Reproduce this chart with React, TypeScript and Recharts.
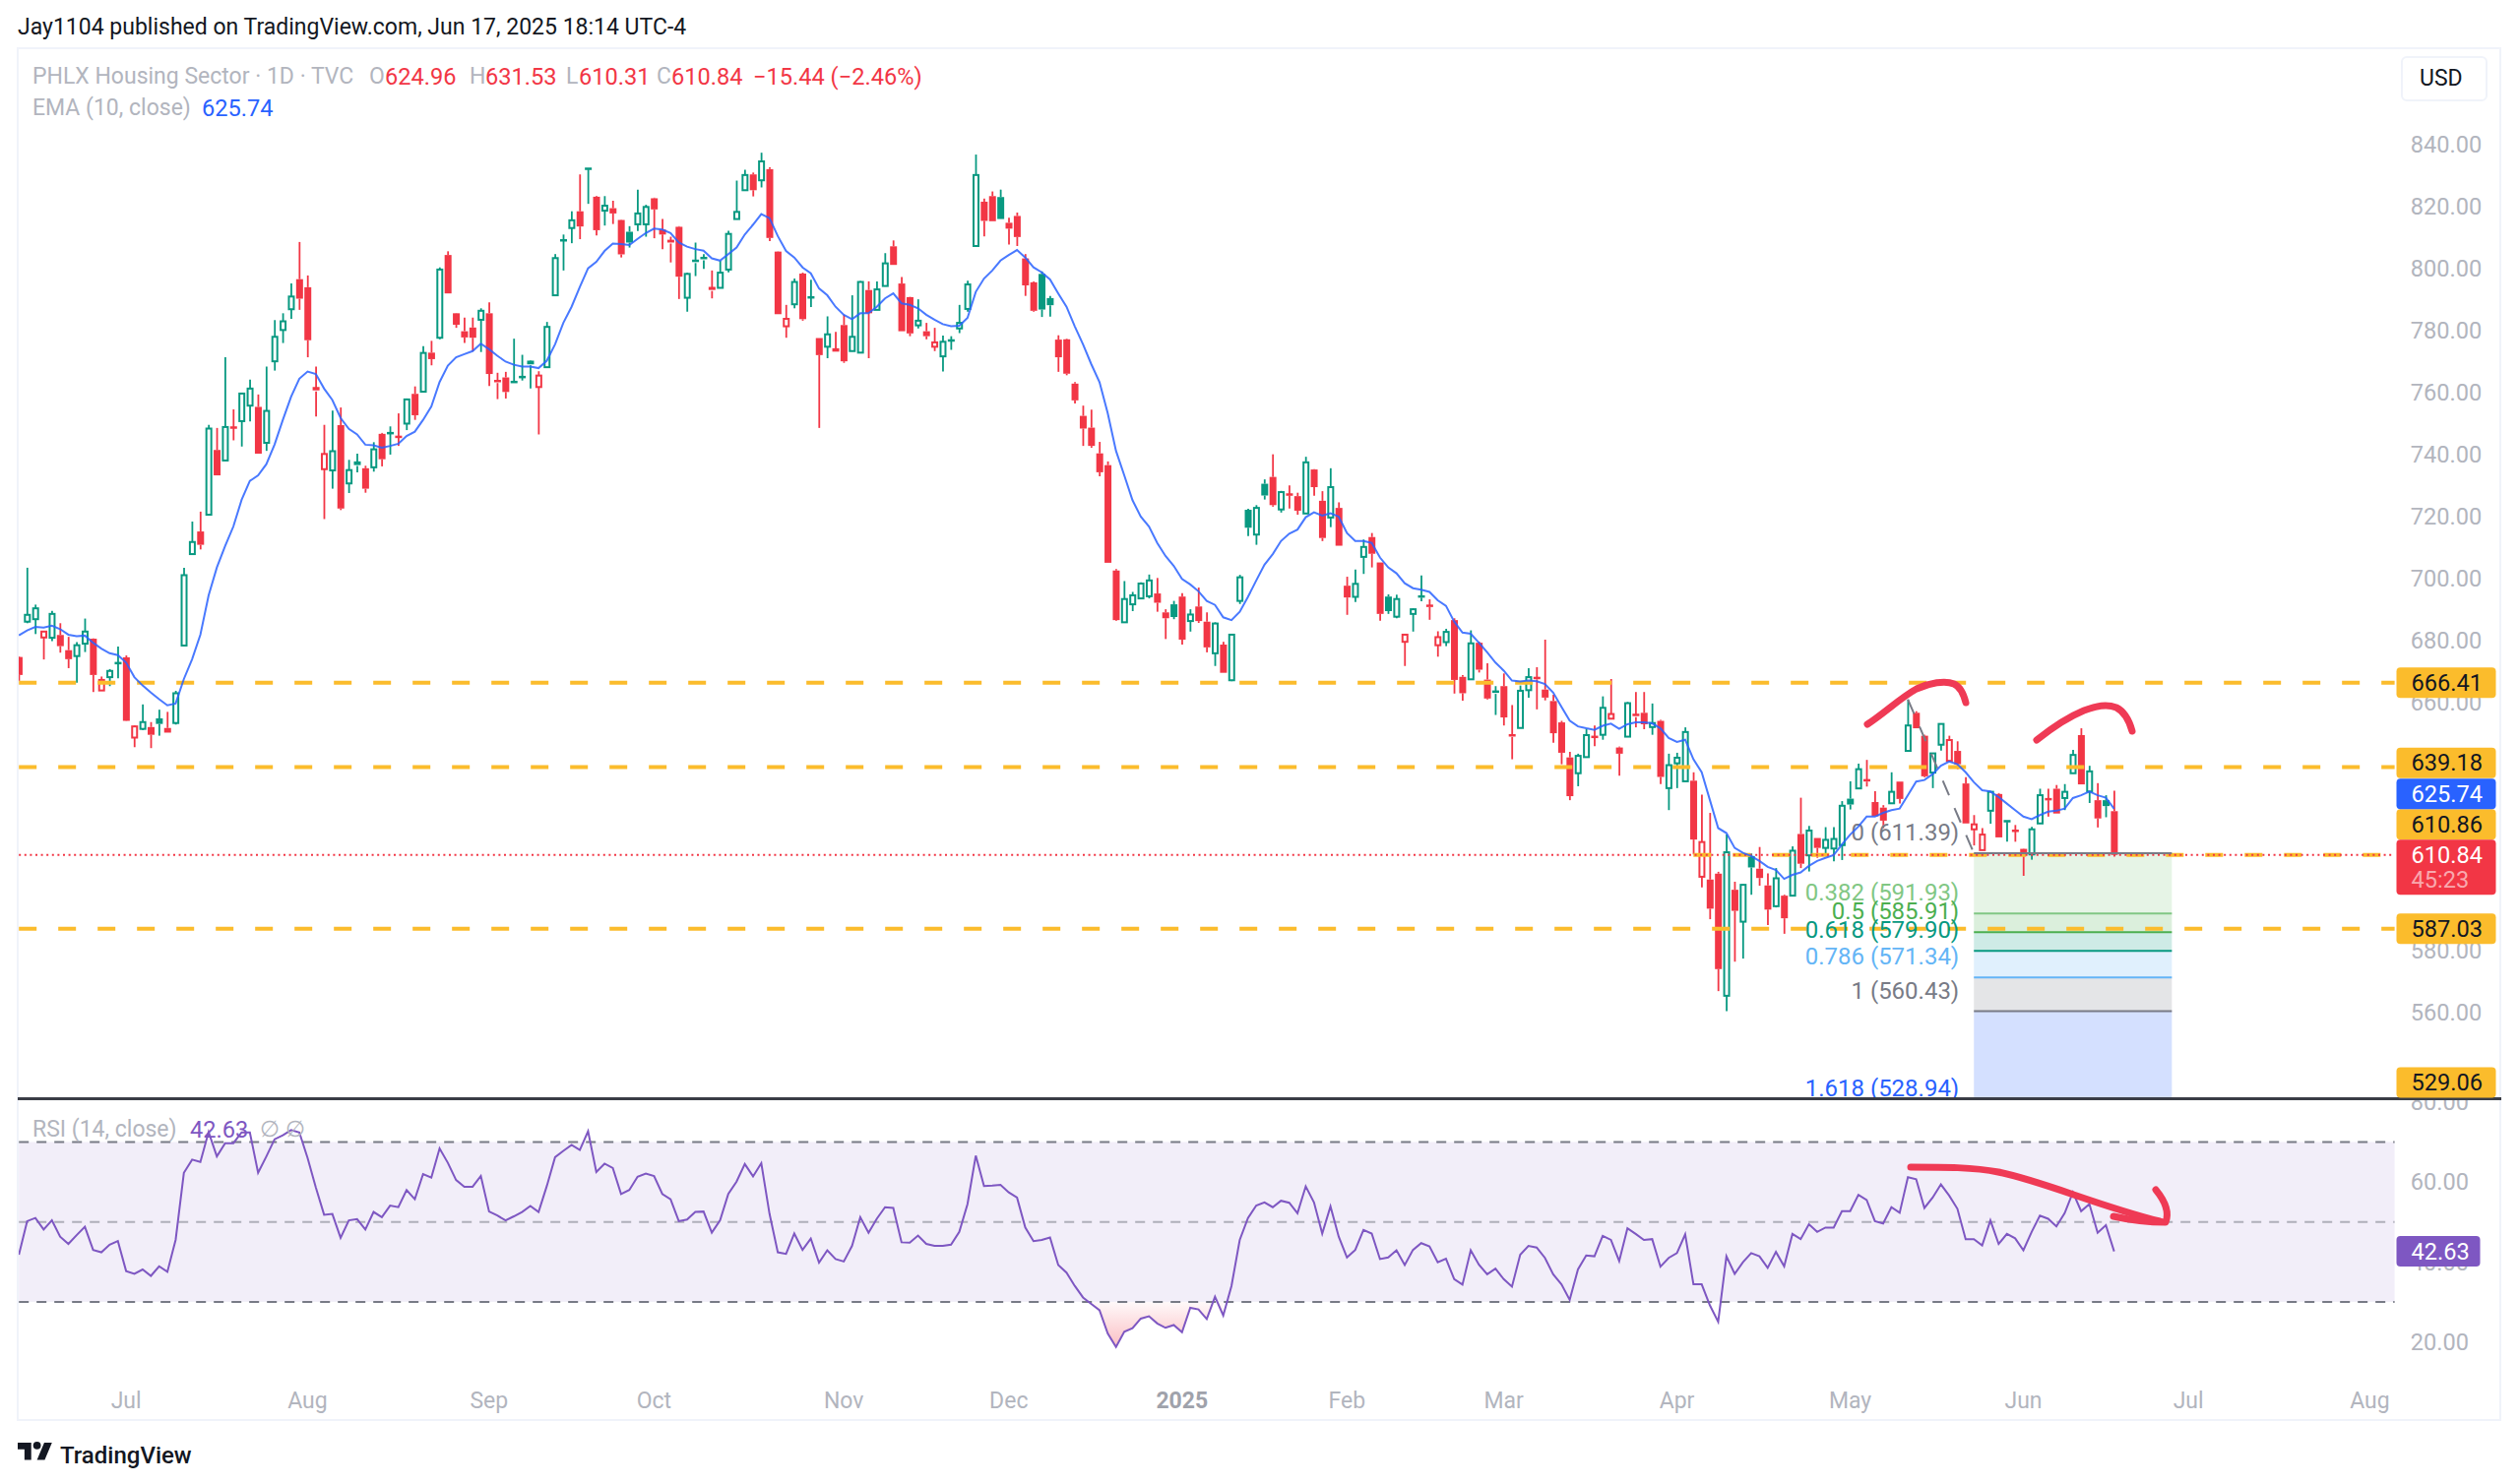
import { Area, Bar, ComposedChart, Line, ReferenceArea, ReferenceLine, XAxis, YAxis } from "recharts";

// daily bars of PHLX Housing Sector, slot 0 = mid June 2024
const opens = [
  674.7,686.1,686.9,681.0,680.9,681.8,676.9,675.0,679.0,680.6,
  663.9,668.2,672.6,674.6,648.7,651.5,652.1,654.9,651.8,653.4,
  678.4,707.9,715.2,720.6,741.5,738.1,748.8,750.8,755.8,755.4,
  743.8,770.1,780.2,786.9,796.6,794.0,761.5,735.3,734.9,749.5,
  730.7,737.5,735.6,735.9,746.7,746.7,745.8,750.0,759.6,760.3,
  772.9,777.7,804.4,785.6,779.8,781.0,783.5,785.6,763.1,764.9,
  763.2,764.8,770.0,761.8,768.2,791.4,809.0,813.1,818.5,832.0,
  823.2,818.7,819.5,815.7,811.9,814.3,814.3,822.7,812.6,809.0,
  813.5,790.6,801.8,803.5,793.8,793.8,799.7,816.0,825.3,830.4,
  828.5,832.1,805.5,781.4,788.5,798.4,790.5,777.6,774.8,774.0,
  781.8,773.4,772.9,793.1,786.7,794.4,807.2,795.2,790.8,781.7,
  779.8,774.8,771.7,776.5,780.7,787.0,807.3,821.6,823.4,823.1,
  814.8,817.0,803.3,795.6,798.3,790.5,777.1,777.2,762.9,752.5,
  748.7,740.4,736.6,702.6,685.9,691.7,693.6,694.3,695.2,689.1,
  691.7,694.2,686.3,691.0,686.1,675.9,678.7,667.2,692.8,722.2,
  714.2,730.6,732.8,722.3,727.2,726.6,721.0,735.2,725.1,719.7,
  722.8,697.7,694.1,707.0,713.4,705.2,694.2,687.7,679.6,688.6,
  693.9,691.3,678.5,679.5,686.6,668.3,667.5,679.3,667.4,663.6,
  665.3,649.5,651.8,664.0,667.5,664.2,660.5,653.6,642.3,637.2,
  642.4,649.0,649.6,654.8,645.5,649.0,656.1,656.7,652.1,654.1,
  632.4,640.4,634.6,634.8,603.8,602.9,604.8,565.4,599.6,589.3,
  610.5,606.4,601.0,594.3,597.7,597.7,617.6,610.7,616.3,613.1,
  612.9,614.0,629.0,632.3,635.0,627.9,626.1,627.5,634.5,644.4,
  656.7,649.3,637.4,646.4,641.2,644.4,633.9,619.1,612.4,625.1,
  630.5,621.5,618.7,612.8,611.0,621.0,628.9,632.2,629.2,637.2,
  649.5,631.3,628.5,628.5,624.96,
];

const highs = [
  674.9,703.5,691.6,683.1,689.6,685.6,681.2,679.5,687.1,680.7,
  668.4,670.8,678.1,675.2,652.6,659.4,653.7,657.7,657.0,663.8,
  703.5,718.4,721.6,749.6,748.6,771.4,754.6,759.9,764.2,759.4,
  768.4,783.4,785.6,795.2,808.6,797.8,768.4,749.6,754.2,755.2,
  738.3,740.3,736.4,744.0,747.0,749.1,753.3,758.1,762.0,775.0,
  776.7,800.4,805.6,785.7,784.2,784.2,787.2,789.1,766.4,766.7,
  777.4,772.2,770.3,766.9,782.8,804.7,811.0,818.5,830.4,832.3,
  823.4,823.4,821.9,815.8,813.7,825.5,820.6,822.9,816.0,810.3,
  813.7,798.7,808.4,804.7,799.4,802.6,812.2,828.4,831.9,831.0,
  837.4,832.7,805.6,788.3,796.8,798.7,796.4,777.6,784.6,779.6,
  785.1,791.4,796.0,795.9,795.9,805.0,809.1,797.3,790.9,790.1,
  782.5,780.9,778.4,778.2,788.3,796.1,836.8,822.6,824.9,825.5,
  816.4,818.1,804.7,795.9,799.1,791.2,778.5,777.4,763.4,755.8,
  754.5,744.1,737.8,703.1,699.2,695.7,698.8,701.3,700.2,690.1,
  692.8,695.3,690.1,697.1,689.1,685.9,679.6,682.1,701.2,722.5,
  723.7,732.0,740.1,728.3,730.1,727.7,739.3,735.3,728.2,735.6,
  724.6,700.6,702.9,712.6,714.7,705.2,694.9,694.8,682.1,690.4,
  701.0,693.3,683.0,683.8,687.2,668.9,683.3,679.6,672.7,665.3,
  669.4,659.2,665.5,671.1,671.4,680.3,662.5,654.1,644.1,643.5,
  651.5,652.6,662.0,667.6,645.8,660.2,663.4,663.4,659.7,654.4,
  643.5,643.8,652.0,637.5,630.3,624.4,605.4,617.4,602.2,601.3,
  611.3,613.4,604.9,606.6,598.0,613.6,629.3,620.2,616.3,619.8,
  619.8,628.2,634.6,640.3,641.5,631.4,626.9,637.5,634.5,661.0,
  657.2,649.6,643.6,653.1,649.3,647.5,635.9,623.7,619.5,631.4,
  630.8,621.9,620.5,612.9,619.9,632.2,632.2,633.4,633.7,644.7,
  651.7,639.6,634.0,630.1,631.53,
];

const lows = [
  667.0,685.6,682.1,673.9,679.8,676.1,671.1,666.4,676.3,663.4,
  663.8,665.3,667.8,654.0,645.6,651.1,645.3,649.3,650.3,652.9,
  678.2,707.9,709.4,720.6,733.3,738.1,744.6,742.6,750.7,740.3,
  741.2,767.1,776.0,783.8,786.7,771.4,752.3,719.2,729.0,722.1,
  727.6,734.3,727.7,734.5,736.2,740.0,742.8,747.9,751.2,760.3,
  768.8,777.2,792.0,780.9,776.0,773.3,773.1,762.1,757.9,758.1,
  763.2,763.9,761.3,746.5,768.2,791.4,799.4,808.2,809.5,820.9,
  810.7,813.9,814.4,803.6,806.8,812.1,810.3,809.8,806.3,802.0,
  790.2,786.1,797.6,799.9,790.4,793.8,798.8,816.0,825.3,823.3,
  826.2,808.9,785.3,777.7,787.2,783.2,787.6,748.6,771.1,772.9,
  769.6,773.4,772.9,771.1,786.7,794.4,801.2,779.8,778.2,780.7,
  777.2,773.4,766.8,773.8,779.2,786.1,807.3,810.4,815.3,816.0,
  807.8,807.3,791.2,786.1,784.4,784.5,766.7,765.6,756.5,742.8,
  742.2,733.0,705.1,686.3,685.9,689.5,693.6,693.6,689.3,680.5,
  686.9,678.7,682.9,685.7,676.2,671.8,669.6,666.9,691.8,713.7,
  710.9,725.5,723.2,721.3,722.6,720.6,721.0,726.7,712.1,716.6,
  710.6,688.3,692.4,701.5,703.6,686.4,688.6,687.2,671.8,682.9,
  692.7,686.7,674.8,678.2,662.9,660.6,667.5,669.7,661.0,656.0,
  652.6,641.7,651.8,661.6,657.8,660.7,647.0,640.1,628.5,633.0,
  642.4,645.9,648.0,654.8,636.4,649.0,652.0,651.4,649.6,633.7,
  625.3,632.4,634.6,611.0,600.4,590.1,566.9,560.4,576.4,577.4,
  598.0,600.9,588.2,593.9,585.4,597.7,606.6,605.5,609.9,610.5,
  608.8,609.2,625.5,632.3,632.9,623.3,619.5,627.5,627.4,644.4,
  651.7,635.9,632.4,644.5,641.2,638.5,621.0,613.9,612.4,620.9,
  616.5,615.1,615.1,604.1,609.3,621.0,623.2,624.2,625.3,637.2,
  633.6,627.6,619.7,623.0,610.31,
];

const closes = [
  668.9,688.3,690.4,682.9,688.6,678.2,674.0,678.5,682.9,668.9,
  667.3,670.2,672.8,654.1,652.3,653.7,649.6,653.1,650.3,663.0,
  701.1,711.8,710.9,748.4,733.3,748.9,748.6,759.7,761.3,740.3,
  754.1,778.0,783.0,791.0,790.3,776.9,760.4,740.2,741.1,722.6,
  735.0,736.3,729.0,741.7,738.5,747.0,745.5,757.8,752.7,772.8,
  770.8,799.7,792.0,781.9,777.8,777.7,786.4,766.0,763.8,760.2,
  763.5,765.1,768.8,765.5,781.2,803.4,809.2,815.6,813.6,832.3,
  812.4,820.3,817.8,804.6,808.4,817.8,819.9,819.1,811.0,808.1,
  797.4,798.3,802.6,802.7,792.8,798.7,811.2,818.3,830.2,825.3,
  834.6,809.9,785.3,783.8,795.7,783.7,790.8,772.1,778.8,772.9,
  770.1,778.0,795.7,785.6,793.3,801.7,801.2,779.8,779.1,783.2,
  778.2,776.2,776.4,776.9,782.5,794.9,830.2,815.4,815.3,816.0,
  812.9,810.2,794.6,786.4,786.8,788.2,771.4,766.1,757.5,748.4,
  742.8,734.3,705.1,686.6,693.4,694.6,698.4,699.4,692.2,687.2,
  687.6,680.3,688.4,686.3,677.8,685.5,669.6,681.9,700.4,716.4,
  722.8,726.8,723.7,727.9,726.8,721.9,737.5,729.5,713.1,729.5,
  710.6,693.9,698.3,710.2,708.0,688.6,689.5,693.4,681.9,690.1,
  694.3,690.8,681.1,682.8,667.3,663.0,679.1,670.6,661.3,662.8,
  655.2,648.9,663.8,668.2,668.0,661.6,650.1,643.8,629.8,642.8,
  649.5,648.6,658.3,656.3,643.5,659.8,655.3,653.0,653.4,636.0,
  639.8,642.2,650.5,615.8,615.0,593.5,574.0,611.7,592.8,601.2,
  606.8,603.4,593.2,603.3,590.4,612.2,608.0,618.7,613.1,615.7,
  616.0,626.7,627.1,638.5,634.5,623.3,621.9,631.2,628.9,652.6,
  651.7,636.2,643.6,653.1,647.9,640.1,621.0,620.7,617.4,631.2,
  616.5,621.8,618.4,610.9,619.1,630.1,628.5,624.2,631.2,643.1,
  633.6,637.8,622.6,626.6,610.84,
];

const ema10 = [
  681.7,683.3,684.4,684.2,684.8,683.7,681.9,681.4,681.6,679.3,
  677.4,675.9,675.3,672.9,668.2,665.5,663.2,661.1,659.1,659.7,
  667.6,674,681.9,694.6,703.6,710.5,716.8,725.4,731.5,733.3,
  736.9,743.3,751.2,758.7,764.5,766.8,766,761.3,757.6,751.8,
  748.3,746.5,743.2,743,742.2,742.8,743.5,746,747.4,751.2,
  755.5,763.4,768.7,771.4,772.4,773.4,775.8,774,771.9,770,
  769,768.4,768.4,767.9,770.3,775.6,782.5,787.7,794.1,800.1,
  802.2,805.7,808.1,807.9,807.6,809.6,811.5,812.9,812.6,811.5,
  808.4,807.1,806.3,805.8,803.3,802.6,804.7,806.8,811,814.2,
  817.6,816.3,810.5,805.7,803.6,800.4,798.5,793.6,791.4,787.7,
  785.1,783.7,785.6,785.6,787.7,790.4,792,788.8,788.3,787.2,
  785.1,783.5,782.1,781.4,781.6,784.1,792.5,796.8,799.4,802.6,
  804.4,806,803.6,800.4,798.8,796.5,792,787.7,781.4,775.6,
  769.2,763.4,753.3,741.2,733.3,725.3,720,716.8,711.5,707.3,
  704.1,699.9,698.1,695.9,692.8,691.5,687.5,686.6,689.3,694.1,
  699.4,704.5,707.9,712.1,714.5,715.8,719.8,721.4,720.3,721.1,
  720,714.7,712.1,712.1,711.5,706.8,703.6,701.7,698.5,696.9,
  696.4,695.7,693,691.2,686.1,682.6,682.2,679.3,676.2,672.9,
  670.3,667.1,666.8,667.1,666.9,666,663.2,658.6,654.2,652.3,
  651.7,651.2,652.5,653.2,651.5,653,653.6,653.6,653.3,651.7,
  648.6,647.3,648,641.7,637.5,628.5,619.5,617.9,613.1,611.5,
  610.5,608.9,607,606,603.1,604.4,605.2,607.3,608.9,609.9,
  610.8,614.2,617.4,620,623.2,623.2,624.4,625.3,625.8,630.1,
  634.5,635,636.9,639.6,641,640.1,637.5,634.3,631.7,631.3,
  629.5,627.4,625.3,623.2,622.4,623.7,624.8,625.1,625.8,629.2,
  630.1,631.3,630.1,629.3,625.74,
];

const rsi14 = [
  41.8,50.2,51,48.1,50.4,46.3,44.5,46.7,48.8,43,
  42.4,44.3,45.2,37.7,37,38.1,36.5,38.9,37.5,45.5,
  62.3,65.6,65,72.5,66.4,69.7,69.7,72.4,72.4,62.3,
  66.4,70.7,71.7,73,72.4,66,58.6,51.8,52,46,
  50.4,50.7,48.1,52.5,51.2,54.1,53.7,58,55.7,62,
  61.1,68.4,64.8,60.5,58.8,58.8,61.5,52.6,51.6,50.4,
  51.4,52.5,54,52.5,59,66.2,67.8,69.3,68,72.7,
  62.5,64.6,63.5,57,58,61.3,62.1,61.5,57,55.7,
  50.2,50.6,52.5,52.6,47.3,50.4,57,60.1,64.5,61.4,
  64.7,52,42.4,42,47.1,43,45.8,39.8,42.9,40.7,
  40.1,44,51.2,47.3,50.8,53.7,53.5,44.9,44.8,46.6,
  44.5,44,44,44.3,47.5,54.5,66.6,59,59.1,59.3,
  57.4,56.1,48.6,45.2,45.5,46.1,39.2,37.3,34,31.1,
  29.5,27.9,22.1,18.7,22.5,23.4,25.8,26.4,24.6,23.5,
  24.2,22.4,28.5,28.1,25.7,31.3,26.6,34,45.5,51,
  54.1,54.9,53.7,55.3,54.8,52.2,58.9,54.9,47.1,53.9,
  46.3,41.1,43,48,47.1,40.7,41.1,42.9,39.2,43,
  44.7,43.9,39.9,40.8,35.7,34.3,42.9,39.3,36.9,38.3,
  35.7,33.8,41.8,44,43.6,41,36.9,34.4,30.5,38.1,
  41.6,41.4,46.5,45.5,40.2,48.4,47,45.5,45.7,38.8,
  41,42.2,46.9,34.4,34.4,29.1,25,41.4,37,39.9,
  42.2,41.4,38.5,42.5,38.9,47,45.7,49.4,47.5,48.6,
  48.6,52.7,52.7,56.8,55.5,50.2,49.6,53.7,52.3,61.2,
  60.7,53.5,56.1,59.4,56.6,53.3,45.7,45.7,44.1,50.4,
  44.5,47,45.9,42.9,47.5,51.6,50.8,48.9,52.2,57.4,
  52.7,54.5,47.3,49.2,42.63,
];

const priorClose = 680;
const slotCount = 289;

const monthSlots = [13, 35, 57, 77, 100, 120, 141, 161, 180, 201, 222, 243, 263, 285];
const monthLabels = ["Jul", "Aug", "Sep", "Oct", "Nov", "Dec", "2025", "Feb", "Mar", "Apr", "May", "Jun", "Jul", "Aug"];

// 640, 620, 600 and 540 sit fully behind the price tags, so they are left out
const priceTicks = [840, 820, 800, 780, 760, 740, 720, 700, 680, 660, 580, 560];
const rsiTicks = [80, 60, 40, 20];

const supportLevels = [666.41, 639.18, 587.03];
const closeDayLevel = 610.86;
const lastClose = 610.84;

// fib retracement drawn over the last swing
const fibRatios = ["0", "0.382", "0.5", "0.618", "0.786", "1", "1.618"];
const fibValues = [611.39, 591.93, 585.91, 579.9, 571.34, 560.43, 528.94];
const fibColors = ["#787b86", "#81c784", "#4caf50", "#089981", "#64b5f6", "#787b86", "#2962ff"];
const fibFrom = 237;
const fibTo = 261;

// text of the scale tags, with the price where the tag ends up after stacking
const tagTexts = ["666.41", "639.18", "610.86", "587.03", "529.06"];
const tagPrices = [666.41, 640.5, 620.7, 587.03, 537.4];

const GREEN = "#089981";
const RED = "#f23645";
const ORANGE = "#fbbc2c";
const GREY = "#b2b5be";
const PURPLE = "#7e57c2";
const BLUE = "#2962ff";
const INK = "#ef3a55";
const FONT = "Roboto, sans-serif";

const CHART_LEFT = 14.9;
const PLOT_WIDTH = 2421.8;
const AXIS_WIDTH = 110;
const LAST_SLOT = slotCount - 1;
const PRICE_DOMAIN = [532.34, 871.43];
const RSI_DOMAIN = [11.5, 80.47];

const rows = Array.from({ length: slotCount }, (_, i) => {
  if (i >= closes.length) return { slot: i };
  const inDecemberDip = i >= 130 && i <= 146;
  return {
    slot: i,
    open: opens[i],
    high: highs[i],
    low: lows[i],
    close: closes[i],
    prevClose: i === 0 ? priorClose : closes[i - 1],
    range: [lows[i], highs[i]],
    ema: ema10[i],
    rsi: rsi14[i],
    dip: inDecemberDip ? [Math.min(rsi14[i], 30), 30] : null,
  };
});

function Candle(props: any) {
  const { x, y, width, height, payload } = props;
  if (payload.close == null) return null;
  const { open, high, low, close, prevClose } = payload;
  const span = high - low || 1;
  const toY = (v: number) => y + ((high - v) / span) * height;
  const color = close >= prevClose ? GREEN : RED;
  const hollow = close >= open;
  const top = toY(Math.max(open, close));
  const bottom = toY(Math.min(open, close));
  const mid = x + width / 2;
  const tall = bottom - top;
  const flat = tall < 4;
  return (
    <g>
      <line x1={mid} x2={mid} y1={y} y2={top} stroke={color} strokeWidth={1.8} />
      <line x1={mid} x2={mid} y1={bottom} y2={y + height} stroke={color} strokeWidth={1.8} />
      {hollow && !flat ? (
        <rect x={x + 1} y={top} width={width - 2} height={tall} fill="none" stroke={color} strokeWidth={2} />
      ) : (
        <rect x={x} y={top - (flat ? 1 : 0)} width={width} height={Math.max(tall, 2.5)} fill={color} />
      )}
    </g>
  );
}

// reference areas run from band edge to band edge, bring them back to the bar centres
function CentredBand(props: any) {
  const { x, y, width, height, fill, fillOpacity } = props;
  return <rect x={x + 4.19} y={y} width={width - 8.38} height={height} fill={fill} fillOpacity={fillOpacity} />;
}

function Tag({ viewBox, text, fill, color, width, extra }: any) {
  const left = viewBox.x + viewBox.width - 2.3;
  const h = extra ? 56 : 31;
  return (
    <g>
      <rect x={left} y={viewBox.y - 15.5} width={width} height={h} rx={4} fill={fill} />
      <text x={left + 15} y={viewBox.y + 8} fontFamily={FONT} fontSize={23.6} fill={color}>
        {text}
      </text>
      {extra ? (
        <text x={left + 15} y={viewBox.y + 33.5} fontFamily={FONT} fontSize={23.6} fill="#f9a8ae">
          {extra}
        </text>
      ) : null}
    </g>
  );
}

function FibLabel({ viewBox, text, color }: any) {
  return (
    <text x={viewBox.x - 15} y={viewBox.y - 13} textAnchor="end" fontFamily={FONT} fontSize={24} fill={color}>
      {text}
    </text>
  );
}

function MonthTick({ x, y, payload }: any) {
  const label = monthLabels[monthSlots.indexOf(payload.value)];
  const bold = label === "2025";
  return (
    <text
      x={x}
      y={y}
      dy={27}
      textAnchor="middle"
      fontFamily={FONT}
      fontSize={23}
      fontWeight={bold ? 700 : 400}
      fill={bold ? "#9fa2ab" : GREY}
    >
      {label}
    </text>
  );
}

const Txt = ({ x, y, color = GREY, size = 23, weight = 400, children }: any) => (
  <span
    style={{
      position: "absolute",
      left: x,
      top: y,
      color,
      fontSize: size,
      fontWeight: weight,
      fontFamily: FONT,
      lineHeight: "30px",
      whiteSpace: "nowrap",
    }}
  >
    {children}
  </span>
);

function PriceChart() {
  const fibBands = fibValues.slice(0, -1);
  return (
    <div style={{ position: "absolute", left: CHART_LEFT, top: 48 }}>
      <ComposedChart
        width={PLOT_WIDTH + AXIS_WIDTH}
        height={1068}
        data={rows}
        margin={{ top: 0, right: 0, bottom: 0, left: 0 }}
        barCategoryGap="11%"
      >
        <XAxis dataKey="slot" hide scale="band" />
        <YAxis
          orientation="right"
          width={AXIS_WIDTH}
          domain={PRICE_DOMAIN}
          ticks={priceTicks}
          interval={0}
          axisLine={false}
          tickLine={false}
          tickSize={0}
          tickMargin={12}
          tickFormatter={(v: number) => v.toFixed(2)}
          tick={{ fill: GREY, fontSize: 23.6, fontFamily: FONT, textAnchor: "start" }}
        />
        {fibBands.map((v, i) => (
          <ReferenceArea
            key={fibRatios[i]}
            x1={fibFrom}
            x2={fibTo}
            y1={v}
            y2={fibValues[i + 1]}
            fill={fibColors[i + 1]}
            fillOpacity={0.2}
            stroke="none"
            ifOverflow="hidden"
            shape={<CentredBand />}
          />
        ))}
        {supportLevels.map((v) => (
          <ReferenceLine
            key={v}
            segment={[
              { x: 0, y: v },
              { x: LAST_SLOT, y: v },
            ]}
            stroke={ORANGE}
            strokeWidth={4}
            strokeDasharray="18 22"
          />
        ))}
        <ReferenceLine
          segment={[
            { x: 203, y: closeDayLevel },
            { x: LAST_SLOT, y: closeDayLevel },
          ]}
          stroke={ORANGE}
          strokeWidth={4}
          strokeDasharray="18 22"
        />
        <ReferenceLine
          segment={[
            { x: 0, y: lastClose },
            { x: LAST_SLOT, y: lastClose },
          ]}
          stroke={RED}
          strokeWidth={2}
          strokeDasharray="2 3.6"
        />
        <ReferenceLine
          segment={[
            { x: 229, y: highs[229] },
            { x: fibFrom, y: fibValues[0] },
          ]}
          stroke="#787b86"
          strokeWidth={2}
          strokeDasharray="16 14"
        />
        {fibValues.map((v, i) => (
          <ReferenceLine
            key={fibRatios[i]}
            segment={[
              { x: fibFrom, y: v },
              { x: fibTo, y: v },
            ]}
            stroke={i === fibValues.length - 1 ? "none" : fibColors[i]}
            strokeWidth={2}
            ifOverflow="visible"
            label={(p: any) => (
              <FibLabel {...p} text={`${fibRatios[i]} (${v.toFixed(2)})`} color={fibColors[i]} />
            )}
          />
        ))}
        <Bar dataKey="range" shape={<Candle />} isAnimationActive={false} />
        <Line
          dataKey="ema"
          type="linear"
          stroke={BLUE}
          strokeWidth={2}
          strokeOpacity={0.85}
          dot={false}
          activeDot={false}
          isAnimationActive={false}
        />
      </ComposedChart>
    </div>
  );
}

// same geometry as the pane below it, so the tags cover the scale labels
function TagLayer({ top, height, domain, seriesKey, bottom = 0, children }: any) {
  return (
    <div style={{ position: "absolute", left: CHART_LEFT, top }}>
      <ComposedChart
        width={PLOT_WIDTH + AXIS_WIDTH}
        height={height}
        data={rows}
        margin={{ top: 0, right: AXIS_WIDTH, bottom, left: 0 }}
      >
        <XAxis dataKey="slot" hide scale="band" />
        <YAxis hide domain={domain} allowDataOverflow />
        {/* invisible series, a chart without one skips its reference lines */}
        <Line dataKey={seriesKey} stroke="none" dot={false} activeDot={false} isAnimationActive={false} />
        {children}
      </ComposedChart>
    </div>
  );
}

function RsiChart() {
  return (
    <div style={{ position: "absolute", left: CHART_LEFT, top: 1118 }}>
      <ComposedChart
        width={PLOT_WIDTH + AXIS_WIDTH}
        height={326}
        data={rows}
        margin={{ top: 0, right: 0, bottom: 0, left: 0 }}
      >
        <defs>
          <linearGradient id="dipFill" x1="0" y1="0" x2="0" y2="1">
            <stop offset="0%" stopColor={RED} stopOpacity={0.03} />
            <stop offset="100%" stopColor={RED} stopOpacity={0.32} />
          </linearGradient>
        </defs>
        <XAxis
          dataKey="slot"
          scale="band"
          height={46}
          ticks={monthSlots}
          interval={0}
          axisLine={false}
          tickLine={false}
          tickSize={0}
          tickMargin={6}
          tick={<MonthTick />}
        />
        <YAxis
          orientation="right"
          width={AXIS_WIDTH}
          domain={RSI_DOMAIN}
          ticks={rsiTicks}
          interval={0}
          axisLine={false}
          tickLine={false}
          tickSize={0}
          tickMargin={12}
          tickFormatter={(v: number) => v.toFixed(2)}
          tick={{ fill: GREY, fontSize: 23.6, fontFamily: FONT, textAnchor: "start" }}
        />
        <ReferenceArea
          x1={0}
          x2={LAST_SLOT}
          y1={30}
          y2={70}
          fill={PURPLE}
          fillOpacity={0.1}
          stroke="none"
          ifOverflow="visible"
          shape={<CentredBand />}
        />
        {[70, 30].map((v) => (
          <ReferenceLine
            key={v}
            segment={[
              { x: 0, y: v },
              { x: LAST_SLOT, y: v },
            ]}
            stroke="#787b86"
            strokeWidth={2}
            strokeDasharray="10 8"
          />
        ))}
        <ReferenceLine
          segment={[
            { x: 0, y: 50 },
            { x: LAST_SLOT, y: 50 },
          ]}
          stroke="#787b86"
          strokeOpacity={0.55}
          strokeWidth={2}
          strokeDasharray="10 8"
        />
        <Area dataKey="dip" type="linear" stroke="none" fill="url(#dipFill)" fillOpacity={1} dot={false} activeDot={false} isAnimationActive={false} />
        <Line
          dataKey="rsi"
          type="linear"
          stroke={PURPLE}
          strokeWidth={2}
          dot={false}
          activeDot={false}
          isAnimationActive={false}
        />
      </ComposedChart>
    </div>
  );
}

export default function App() {
  const lastRsi = rsi14[rsi14.length - 1];
  const lastEma = ema10[ema10.length - 1];
  return (
    <div style={{ position: "absolute", left: 0, top: 0, width: 2560, height: 1508, background: "#fff", overflow: "hidden" }}>
      <Txt x={18} y={13} color="#131722" size={23}>
        Jay1104 published on TradingView.com, Jun 17, 2025 18:14 UTC-4
      </Txt>

      <PriceChart />
      <RsiChart />

      {/* panel frame, pane separator and the strip hiding the clipped first bar */}
      <div style={{ position: "absolute", left: 0, top: 48, width: 17, height: 1396, background: "#fff" }} />
      <div style={{ position: "absolute", left: 17, top: 48, width: 2524, height: 1396, border: "2px solid #f0f3fa", boxSizing: "border-box" }} />
      <div style={{ position: "absolute", left: 18, top: 1115, width: 2523, height: 3, background: "#3a3d46" }} />

      <TagLayer top={48} height={1068} domain={PRICE_DOMAIN} seriesKey="close">
        {tagPrices.map((v, i) => (
          <ReferenceLine
            key={tagTexts[i]}
            y={v}
            stroke="none"
            label={(p: any) => <Tag {...p} text={tagTexts[i]} fill={ORANGE} color="#131722" width={101} />}
          />
        ))}
        <ReferenceLine
          y={630.5}
          stroke="none"
          label={(p: any) => <Tag {...p} text={lastEma.toFixed(2)} fill={BLUE} color="#ffffff" width={101} />}
        />
        <ReferenceLine
          y={lastClose}
          stroke="none"
          label={(p: any) => <Tag {...p} text={lastClose.toFixed(2)} fill={RED} color="#ffffff" width={101} extra="45:23" />}
        />
      </TagLayer>
      <TagLayer top={1118} height={326} bottom={46} domain={RSI_DOMAIN} seriesKey="rsi">
        <ReferenceLine
          y={lastRsi}
          stroke="none"
          label={(p: any) => <Tag {...p} text={lastRsi.toFixed(2)} fill={PURPLE} color="#ffffff" width={85} />}
        />
      </TagLayer>

      <Txt x={33} y={63}>PHLX Housing Sector · 1D · TVC</Txt>
      <Txt x={375} y={63}>O</Txt>
      <Txt x={391} y={63} color={RED} size={23.6}>624.96</Txt>
      <Txt x={477} y={63}>H</Txt>
      <Txt x={493} y={63} color={RED} size={23.6}>631.53</Txt>
      <Txt x={575} y={63}>L</Txt>
      <Txt x={588} y={63} color={RED} size={23.6}>610.31</Txt>
      <Txt x={667} y={63}>C</Txt>
      <Txt x={682} y={63} color={RED} size={23.6}>610.84</Txt>
      <Txt x={765} y={63} color={RED} size={23.6}>−15.44 (−2.46%)</Txt>
      <Txt x={33} y={95}>EMA (10, close)</Txt>
      <Txt x={205} y={95} color={BLUE} size={23.6}>625.74</Txt>

      <div style={{ position: "absolute", left: 2439, top: 57, width: 88, height: 46, border: "2px solid #f0f3fa", borderRadius: 6, boxSizing: "border-box", background: "#fff" }} />
      <Txt x={2458} y={65} color="#131722" size={23}>USD</Txt>

      <Txt x={33} y={1133}>RSI (14, close)</Txt>
      <Txt x={193} y={1133} color={PURPLE} size={23.6}>42.63</Txt>
      <Txt x={264} y={1133}>∅</Txt>
      <Txt x={290} y={1133}>∅</Txt>

      <svg width={2560} height={1508} style={{ position: "absolute", left: 0, top: 0, pointerEvents: "none" }}>
        <g fill="none" stroke={INK} strokeWidth={7} strokeLinecap="round" strokeLinejoin="round">
          <path d="M1897 736 C1915 724 1932 708 1947 700 C1960 694 1976 691 1985 695 C1992 698 1995 706 1997 714" />
          <path d="M2069 752 C2084 740 2100 729 2117 722 C2130 717 2140 715 2150 719 C2158 723 2163 732 2166 743" />
          <path d="M1941 1186 C1975 1186 2005 1186 2030 1191 C2075 1200 2130 1225 2194 1241" />
          <path d="M2147 1236 C2165 1240 2185 1242 2200 1242 C2204 1232 2199 1220 2190 1209" />
        </g>
        <g transform="translate(18 1462) scale(0.98)">
          <path d="M14 22H7V11H0V4h14v18zM28 22h-8l7.5-18h8L28 22z" fill="#131722" />
          <circle cx="20" cy="7" r="4" fill="#131722" />
        </g>
      </svg>
      <Txt x={61} y={1464} color="#131722" size={24} weight={500}>TradingView</Txt>
    </div>
  );
}
